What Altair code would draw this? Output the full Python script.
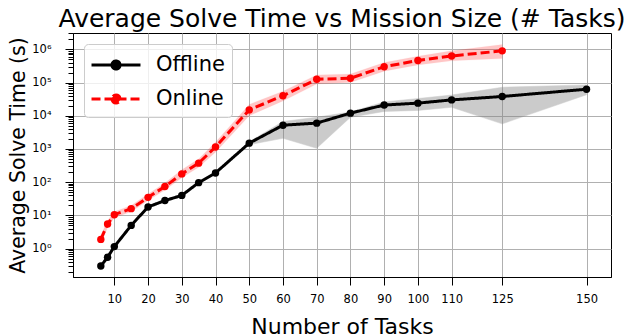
import altair as alt
import pandas as pd

# ---- data ----
x_off = [6, 8, 10, 15, 20, 25, 30, 35, 40, 50, 60, 70, 80, 90, 100, 110, 125, 150]
off_mean = [0.30, 0.55, 1.15, 5.0, 18, 28, 40, 97, 190, 1500, 5200, 6000, 12000, 21000, 24000, 30000, 38000, 63000]
off_lo = [0.28, 0.50, 1.05, 4.6, 16.5, 26, 37, 90, 178, 1350, 2100, 1050, 9000, 13500, 14500, 18000, 5700, 43000]
off_hi = [0.32, 0.60, 1.25, 5.4, 19.5, 30, 43, 104, 205, 1650, 6700, 9000, 13000, 26000, 33000, 42000, 72000, 85000]

x_on = [6, 8, 10, 15, 20, 25, 30, 35, 40, 50, 60, 70, 80, 90, 100, 110, 125]
on_mean = [1.9, 5.5, 10.5, 16, 35, 74, 178, 375, 1150, 15000, 40000, 125000, 135000, 300000, 460000, 630000, 900000]
on_lo = [1.4, 4.3, 8.5, 13, 28, 58, 135, 280, 800, 10000, 28000, 90000, 100000, 220000, 340000, 450000, 530000]
on_hi = [2.5, 7.0, 13, 20, 44, 95, 235, 500, 1600, 22000, 55000, 170000, 180000, 400000, 620000, 900000, 1400000]

x_ticks = [10, 20, 30, 40, 50, 60, 70, 80, 90, 100, 110, 125, 150]
series_names = ["Offline", "Online"]
series_colors = ["#000000", "#ff0000"]

rows = []
for x, m, lo, hi in zip(x_off, off_mean, off_lo, off_hi):
    rows.append({"series": "Offline", "x": x, "mean": m, "lo": lo, "hi": hi})
for x, m, lo, hi in zip(x_on, on_mean, on_lo, on_hi):
    rows.append({"series": "Online", "x": x, "mean": m, "lo": lo, "hi": hi})
df = pd.DataFrame(rows)

y_values = [k * 10.0 ** e for e in range(-1, 7) for k in range(1, 10)]
y_values = [v for v in y_values if 0.14 <= v <= 3.1e6]
major_test = "abs(log(datum.value)/LN10 - round(log(datum.value)/LN10)) < 0.001"

FONT = "DejaVu Sans"

x_scale = alt.Scale(domain=[-2.25, 157.25], nice=False, zero=False)
y_scale = alt.Scale(type="log", domain=[0.14, 3.1e6], nice=False)

x_axis = alt.Axis(
    values=x_ticks, title="Number of Tasks", labelFontSize=11.5, titleFontSize=22,
    titleFont=FONT, labelFont=FONT, titleFontWeight="normal", titlePadding=12,
    grid=True, gridColor="#b0b0b0", gridWidth=1, tickColor="#000000", tickSize=8,
    domainColor="#000000", labelColor="#000000", titleColor="#000000", labelPadding=8,
)
y_axis = alt.Axis(
    values=y_values, title="Average Solve Time (s)", labelFontSize=11.5, titleFontSize=20.5,
    titleFont=FONT, labelFont=FONT, titleFontWeight="normal", titlePadding=3,
    labelExpr="(" + major_test + ") ? '10' + ['⁻¹','⁰','¹','²','³','⁴','⁵','⁶'][round(log(datum.value)/LN10)+1] : ''",
    grid=True, gridColor="#b0b0b0", gridWidth=1,
    gridOpacity={"condition": {"test": major_test, "value": 1}, "value": 0},
    tickSize={"condition": {"test": major_test, "value": 8}, "value": 5},
    tickColor="#000000", domainColor="#000000", labelColor="#000000", titleColor="#000000",
    labelPadding=14,
)

base = alt.Chart(df)

band_off = base.transform_filter(alt.datum.series == "Offline").mark_area(
    color="#808080", opacity=0.4, stroke="#808080", strokeOpacity=0.5, strokeWidth=1
).encode(
    x=alt.X("x:Q", scale=x_scale, axis=x_axis),
    y=alt.Y("lo:Q", scale=y_scale, axis=y_axis),
    y2="hi:Q",
)
band_on = base.transform_filter(alt.datum.series == "Online").mark_area(
    color="#ff0000", opacity=0.22, stroke="#ff0000", strokeOpacity=0.15, strokeWidth=1
).encode(
    x=alt.X("x:Q", scale=x_scale),
    y=alt.Y("lo:Q", scale=y_scale),
    y2="hi:Q",
)

legend = alt.Legend(
    title=None, orient="top-left", offset=11, labelFontSize=21, labelFont=FONT,
    labelColor="#000000",
    symbolType="M-2,0L2,0M-0.33,0a0.33,0.33 0 1,0 0.66,0a0.33,0.33 0 1,0 -0.66,0",
    symbolSize=600, symbolStrokeWidth=3, symbolOffset=11, labelOffset=26,
    fillColor="rgba(255,255,255,0.8)", strokeColor="#cccccc", cornerRadius=4,
    padding=7, rowPadding=9,
)

lines = base.mark_line(strokeWidth=3).encode(
    x=alt.X("x:Q", scale=x_scale),
    y=alt.Y("mean:Q", scale=y_scale),
    color=alt.Color("series:N", scale=alt.Scale(domain=series_names, range=series_colors), legend=legend),
    strokeDash=alt.StrokeDash("series:N", scale=alt.Scale(domain=series_names, range=[[1, 0], [9, 4]]), legend=legend),
)
points = base.mark_circle(size=55, opacity=1).encode(
    x=alt.X("x:Q", scale=x_scale),
    y=alt.Y("mean:Q", scale=y_scale),
    color=alt.Color("series:N", scale=alt.Scale(domain=series_names, range=series_colors), legend=None),
)

chart = alt.layer(band_off, band_on, lines, points).properties(
    width=538, height=244,
    title=alt.Title("Average Solve Time vs Mission Size (# Tasks)", fontSize=25, font=FONT,
                    fontWeight="normal", color="#000000", offset=1),
    autosize=alt.AutoSizeParams(type="none"),
    padding={"left": 65, "top": 25, "right": 21, "bottom": 60},
).configure_view(stroke="#000000", strokeWidth=1)

chart.save("out.html", embed_options={"renderer": "svg", "actions": False})
